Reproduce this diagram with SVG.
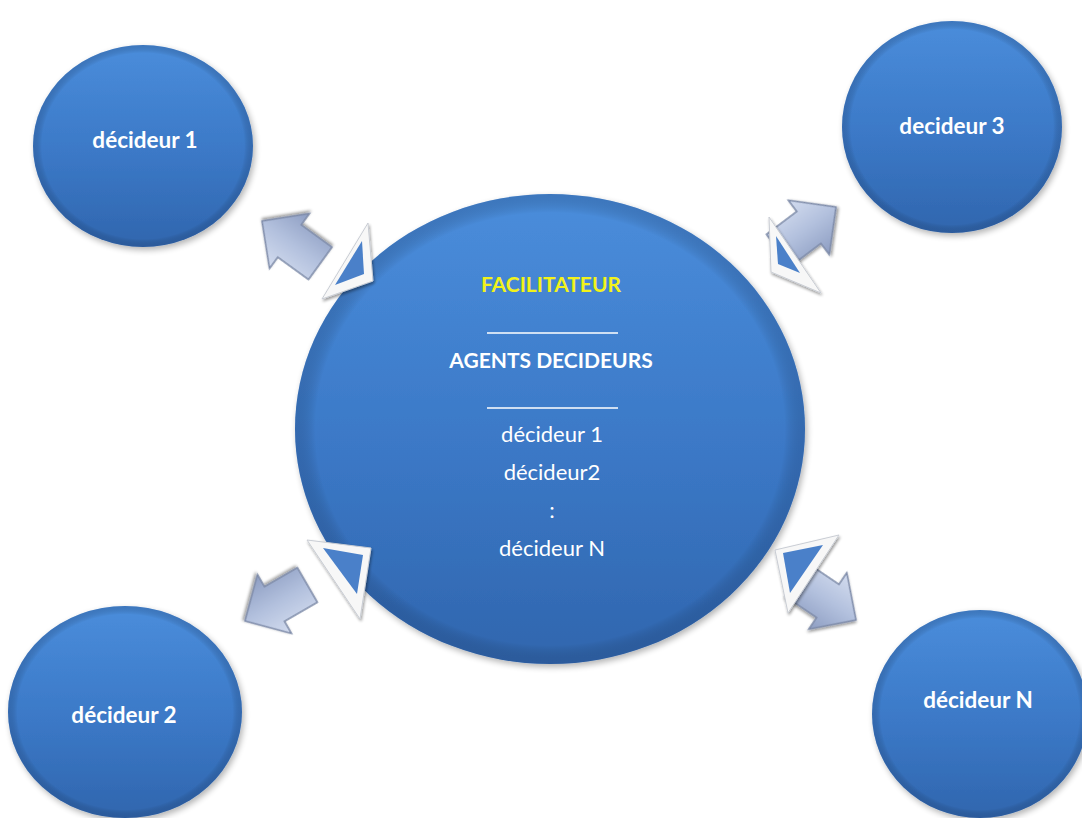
<svg xmlns="http://www.w3.org/2000/svg" width="1082" height="818" viewBox="0 0 1082 818">
  <defs>
    <linearGradient id="ballFill" x1="0" y1="0" x2="0" y2="1">
      <stop offset="0" stop-color="#4a8ddb"/>
      <stop offset="0.55" stop-color="#3b78c6"/>
      <stop offset="1" stop-color="#3066ae"/>
    </linearGradient>
    <radialGradient id="ballRim" cx="0.5" cy="0.5" r="0.5">
      <stop offset="0.92" stop-color="#000" stop-opacity="0"/>
      <stop offset="1" stop-color="#1d3f73" stop-opacity="0.28"/>
    </radialGradient>
    <linearGradient id="arrowFill" x1="0" y1="0" x2="0" y2="1">
      <stop offset="0" stop-color="#d3dcef"/>
      <stop offset="0.5" stop-color="#b2c0dd"/>
      <stop offset="1" stop-color="#8d9dc2"/>
    </linearGradient>
    <filter id="shadow" x="-20%" y="-20%" width="140%" height="140%">
      <feGaussianBlur in="SourceAlpha" stdDeviation="3"/>
      <feOffset dx="2" dy="3" result="b"/>
      <feComponentTransfer><feFuncA type="linear" slope="0.3"/></feComponentTransfer>
      <feMerge><feMergeNode/><feMergeNode in="SourceGraphic"/></feMerge>
    </filter>
    <filter id="soft" x="-20%" y="-20%" width="140%" height="140%">
      <feGaussianBlur in="SourceAlpha" stdDeviation="1.5"/>
      <feOffset dx="1" dy="2" result="b"/>
      <feComponentTransfer><feFuncA type="linear" slope="0.4"/></feComponentTransfer>
      <feMerge><feMergeNode/><feMergeNode in="SourceGraphic"/></feMerge>
    </filter>
    <!-- block arrow, tip at origin, pointing along +x -->
    <polygon id="blockArrow" points="-72,-20 -34,-20 -34,-34 0,0 -34,34 -34,20 -72,20"/>
  </defs>
  <style>
    .ball { fill: url(#ballFill); filter: url(#shadow); }
    .rim { fill: url(#ballRim); }
    .lbl { font-family: Lato, "Liberation Sans", sans-serif; font-weight: bold; fill: #ffffff; text-anchor: middle; }
    .small { font-size: 22.5px; }
    .head { font-size: 21px; }
    .item { font-family: Lato, "Liberation Sans", sans-serif; font-size: 22px; fill: #ffffff; text-anchor: middle; }
    .arrow { fill: url(#arrowFill); stroke: #7d8aa8; stroke-width: 1.5; stroke-linejoin: miter; filter: url(#soft); }
    .tri-out { fill: #f7f7f7; stroke: #c9cdd4; stroke-width: 1; filter: url(#soft); }
    .tri-in { fill: #4a80c9; }
    .rule { stroke: #ffffff; stroke-width: 1.5; }
  </style>

  <rect width="1082" height="818" fill="#ffffff"/>

  <!-- connectors: outward block arrows and inner arrowheads on the hub -->
  <g id="connectors">
    <use href="#blockArrow" class="arrow" transform="translate(262,221) rotate(216)"/>
    <use href="#blockArrow" class="arrow" transform="translate(836,207) rotate(-37)"/>
    <use href="#blockArrow" class="arrow" transform="translate(245,621) rotate(150)"/>
    <use href="#blockArrow" class="arrow" transform="translate(856,620) rotate(34)"/>
  </g>

  <g id="facilitateur">
    <ellipse class="ball" cx="550" cy="429" rx="255" ry="235"/>
    <ellipse class="rim" cx="550" cy="429" rx="255" ry="235"/>
    <text class="lbl head" x="551" y="292" style="fill:#f2f21a">FACILITATEUR</text>
    <line class="rule" x1="487" y1="333" x2="618" y2="333"/>
    <text class="lbl head" x="551" y="368">AGENTS DECIDEURS</text>
    <line class="rule" x1="487" y1="408" x2="618" y2="408"/>
    <text class="item" x="552" y="442">décideur 1</text>
    <text class="item" x="552" y="480">décideur2</text>
    <text class="item" x="552" y="518">:</text>
    <text class="item" x="552" y="556">décideur N</text>
  </g>

  <!-- arrowheads sitting on the hub edge -->
  <g id="hub-heads">
    <polygon class="tri-out" points="368,223 373,281 322,299"/>
    <polygon class="tri-in" points="362,241 364,274 335,285"/>
    <polygon class="tri-out" points="769,217 771,272 821,293"/>
    <polygon class="tri-in" points="776,236 778,264 800,273"/>
    <polygon class="tri-out" points="307,540 371,548 360,619"/>
    <polygon class="tri-in" points="323,548 363,555 357,594"/>
    <polygon class="tri-out" points="775,550 839,535 788,613"/>
    <polygon class="tri-in" points="783,553 823,545 790,593"/>
  </g>

  <g id="decideur1">
    <ellipse class="ball" cx="143" cy="146" rx="110" ry="101"/>
    <ellipse class="rim" cx="143" cy="146" rx="110" ry="101"/>
    <text class="lbl small" x="145" y="148">décideur 1</text>
  </g>

  <g id="decideur3">
    <ellipse class="ball" cx="952" cy="127" rx="110" ry="106"/>
    <ellipse class="rim" cx="952" cy="127" rx="110" ry="106"/>
    <text class="lbl small" x="952" y="134">decideur 3</text>
  </g>

  <g id="decideur2">
    <ellipse class="ball" cx="125" cy="712" rx="117" ry="106"/>
    <ellipse class="rim" cx="125" cy="712" rx="117" ry="106"/>
    <text class="lbl small" x="124" y="723">décideur 2</text>
  </g>

  <g id="decideurN">
    <ellipse class="ball" cx="980" cy="714" rx="108" ry="104"/>
    <ellipse class="rim" cx="980" cy="714" rx="108" ry="104"/>
    <text class="lbl small" x="978" y="708">décideur N</text>
  </g>
</svg>
